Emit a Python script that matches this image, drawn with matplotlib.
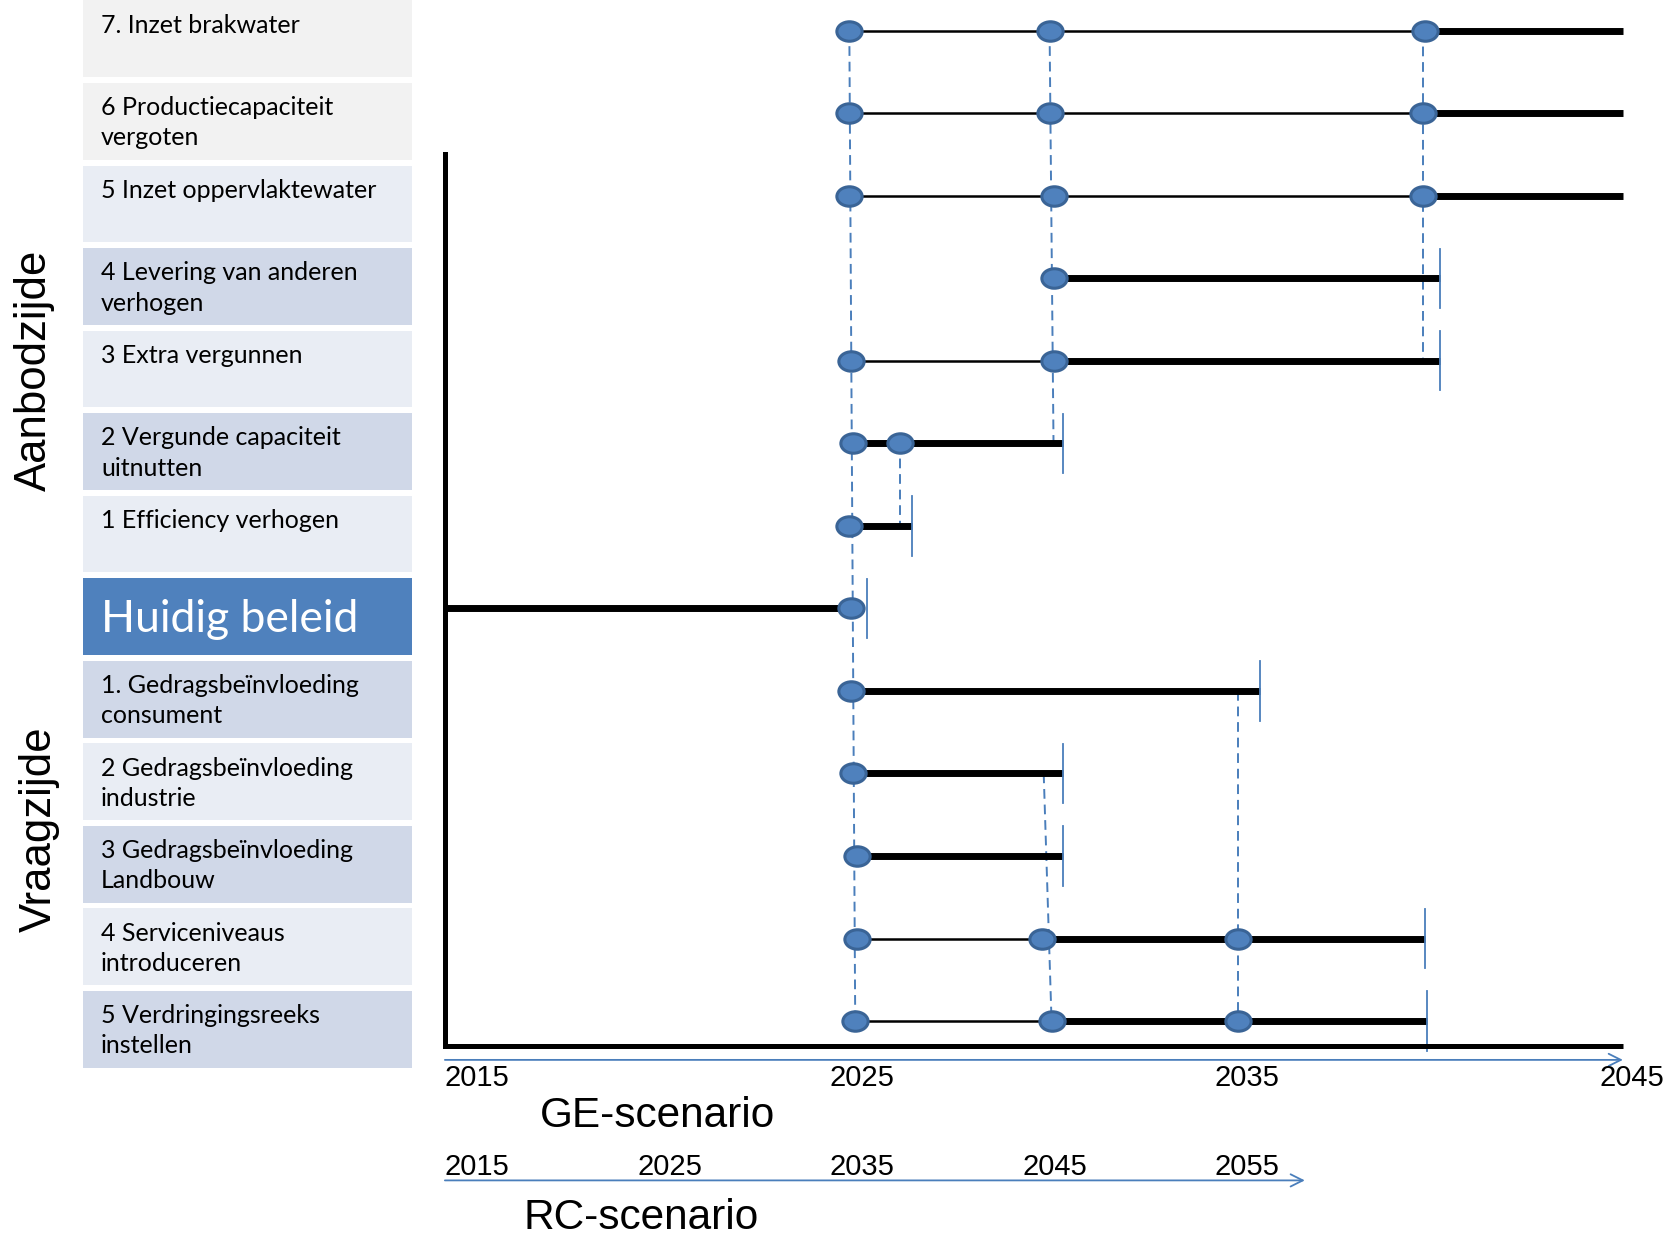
import matplotlib
matplotlib.use("Agg")
import matplotlib.pyplot as plt
from matplotlib.patches import Rectangle
from matplotlib.markers import MarkerStyle
from matplotlib.transforms import Affine2D

# rows, top to bottom
labels = ["7. Inzet brakwater",
          "6 Productiecapaciteit\nvergoten",
          "5 Inzet oppervlaktewater",
          "4 Levering van anderen\nverhogen",
          "3 Extra vergunnen",
          "2 Vergunde capaciteit\nuitnutten",
          "1 Efficiency verhogen",
          "Huidig beleid",
          "1. Gedragsbeïnvloeding\nconsument",
          "2 Gedragsbeïnvloeding\nindustrie",
          "3 Gedragsbeïnvloeding\nLandbouw",
          "4 Serviceniveaus\nintroduceren",
          "5 Verdringingsreeks\ninstellen"]
shade = ["grey", "grey", "light", "dark", "light", "dark", "light",
         "huidig", "dark", "light", "dark", "light", "dark"]

# GE years read off the timeline (None = no such part)
thin_from = [2025.3, 2025.3, 2025.3, None, 2025.35, None, None,
             None, None, None, None, 2025.5, 2025.45]
thick_from = [2039.95, 2039.9, 2039.9, 2030.5, 2030.5, 2025.4, 2025.3,
              2015, 2025.35, 2025.4, 2025.5, 2030.2, 2030.45]
line_end = [2045, 2045, 2045, 2040.35, 2040.35, 2030.75, 2026.9,
            2025.35, 2035.75, 2030.75, 2030.75, 2039.95, 2040]
end_tick = [None, None, None, 2040.35, 2040.35, 2030.75, 2026.9,
            2025.75, 2035.75, 2030.75, 2030.75, 2039.95, 2040]
points = [[2025.3, 2030.4, 2039.95],
          [2025.3, 2030.4, 2039.9],
          [2025.3, 2030.5, 2039.9],
          [2030.5],
          [2025.35, 2030.5],
          [2025.4, 2026.6],
          [2025.3],
          [2025.35],
          [2025.35],
          [2025.4],
          [2025.5],
          [2025.5, 2030.2, 2035.2],
          [2025.45, 2030.45, 2035.2]]

# dashed connections between rows
link_x0 = [2025.3, 2030.4, 2039.9, 2026.6, 2035.2, 2030.25]
link_x1 = [2025.45, 2030.5, 2039.9, 2026.6, 2035.2, 2030.45]
link_r0 = [0, 0, 0, 5, 8, 9]
link_r1 = [12, 5, 4, 6, 12, 12]

ge_years = [2015, 2025, 2035, 2045]
rc_years = [2015, 2025, 2035, 2045, 2055]

blue = "#4a7ebb"
fills = {"grey": "#f2f2f2", "light": "#e9edf4", "dark": "#d0d8e8", "huidig": "#4f81bd"}
narrow = ["Liberation Sans", "DejaVu Sans"]
boxfont = ["Lato", "DejaVu Sans"]

fig = plt.figure(figsize=(16.7, 12.39), dpi=100)
ax = fig.add_axes([0, 0, 1, 1])
ax.set_xlim(2003.67, 2046.2)
ax.set_ylim(14.54, -0.471)
ax.axis("off")

dy = -0.1

# dashed blue verticals
for x0, x1, r0, r1 in zip(link_x0, link_x1, link_r0, link_r1):
    ax.plot([x0, x1], [r0 + dy, r1 + dy], color=blue, lw=1.4, ls=(0, (5, 3)), zorder=1)

ell = MarkerStyle("o", transform=Affine2D().scale(1.3, 1.0))
for i in range(len(labels)):
    y = i + dy
    if thin_from[i] is not None:
        ax.plot([thin_from[i], thick_from[i]], [y, y], color="black", lw=1.8, zorder=2)
    ax.plot([thick_from[i], line_end[i]], [y, y], color="black", lw=5,
            solid_capstyle="butt", zorder=2)
    if end_tick[i] is not None:
        ax.plot([end_tick[i], end_tick[i]], [y - 0.36, y + 0.36], color=blue, lw=1.3, zorder=2)
    ax.plot(points[i], [y] * len(points[i]), ls="none", marker=ell, markersize=14,
            mfc="#4f81bd", mec="#3a6496", mew=2.2, zorder=3)

# black axes frame
ax.plot([2015, 2015], [1.40, 12.2], color="black", lw=3.6, solid_capstyle="projecting")
ax.plot([2015, 2045], [12.2, 12.2], color="black", lw=3.6, solid_capstyle="butt")

# GE timeline
ax.annotate("", xy=(2045, 12.37), xytext=(2015, 12.37),
            arrowprops=dict(arrowstyle="->", color=blue, lw=1.3, shrinkA=0, shrinkB=0,
                            mutation_scale=22))
for yr in ge_years:
    ax.text(2015 + (yr - 2015) * 0.98, 12.69, str(yr), ha="left", va="baseline",
            fontsize=21, family=narrow)
ax.text(2017.42, 13.18, "GE-scenario", ha="left", va="baseline", fontsize=30.5, family=narrow)

# RC timeline (twice as slow)
ax.annotate("", xy=(2036.9, 13.83), xytext=(2015, 13.83),
            arrowprops=dict(arrowstyle="->", color=blue, lw=1.3, shrinkA=0, shrinkB=0,
                            mutation_scale=22))
for yr in rc_years:
    ge = 2015 + (yr - 2015) / 2
    ax.text(2015 + (ge - 2015) * 0.98, 13.77, str(yr), ha="left", va="baseline",
            fontsize=21, family=narrow)
ax.text(2017.01, 14.42, "RC-scenario", ha="left", va="baseline", fontsize=30.5, family=narrow)

# label boxes
lab = fig.add_axes([83 / 1670, 0, 329 / 1670, 1])
lab.set_xlim(0, 1)
lab.set_ylim(14.54, -0.471)
lab.axis("off")
for i, (txt, s) in enumerate(zip(labels, shade)):
    h = 0.93
    lab.add_patch(Rectangle((0, i - h / 2), 1, h, facecolor=fills[s], edgecolor="none"))
    if s == "huidig":
        lab.text(0.055, i + 0.18, txt, ha="left", va="baseline", fontsize=32,
                 color="white", family=boxfont)
    else:
        lab.text(0.055, i - h / 2 + 0.16, txt, ha="left", va="top", fontsize=18,
                 linespacing=1.38, family=boxfont)

fig.text(0.0204, 0.7014, "Aanbodzijde", rotation=90, ha="center", va="center",
         fontsize=31.5, family=narrow)
fig.text(0.0236, 0.331, "Vraagzijde", rotation=90, ha="center", va="center",
         fontsize=31.5, family=narrow)

fig.savefig("out.png", dpi=100)
